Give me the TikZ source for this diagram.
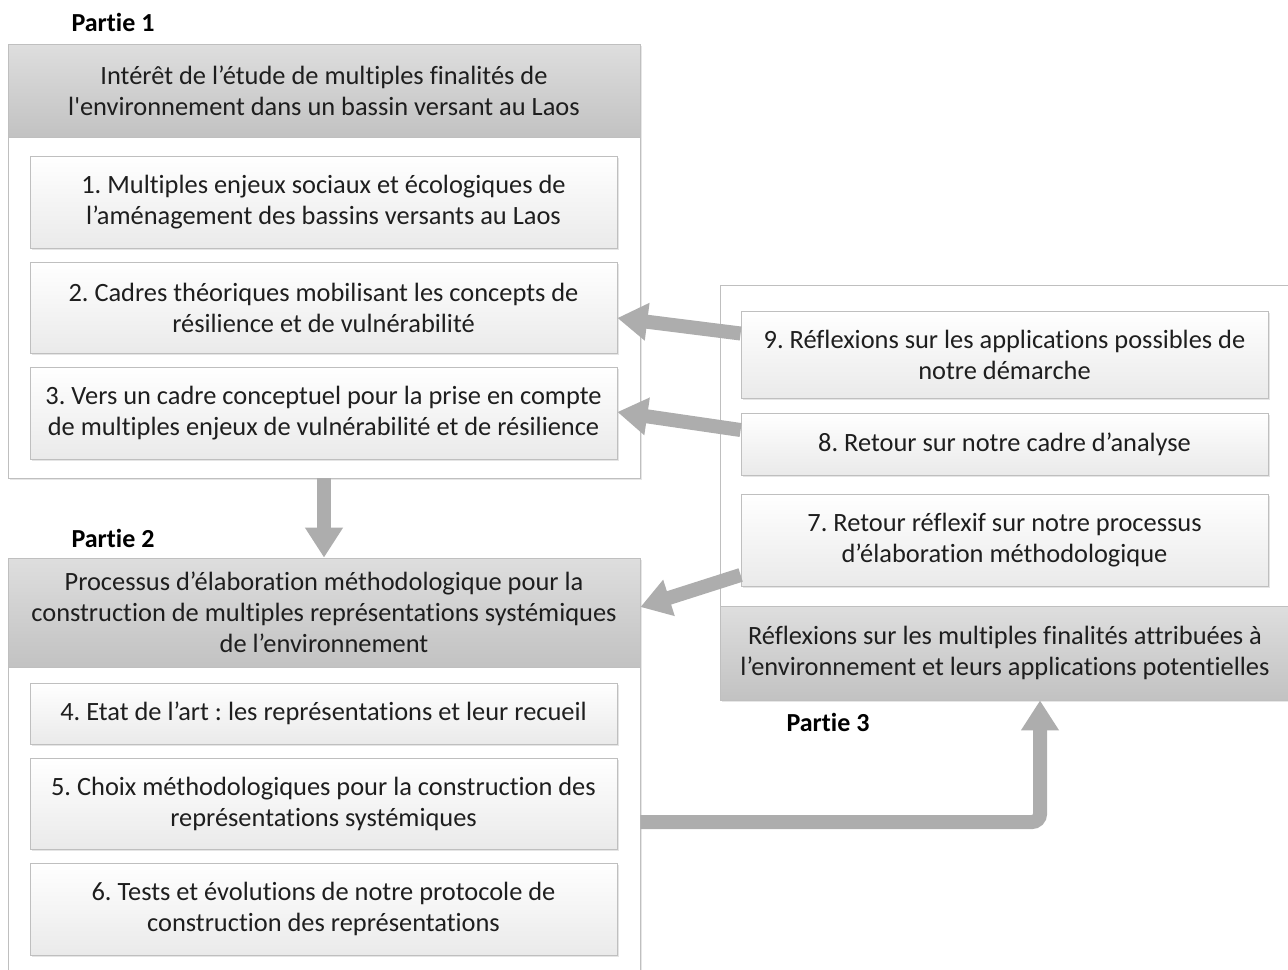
\documentclass[tikz,border=0pt]{standalone}
\usepackage{fontspec}
\newfontfamily\carlito{Carlito}[Ligatures=NoCommon]
\usetikzlibrary{arrows.meta, shadows}
\definecolor{framegray}{HTML}{BFBFBF}
\definecolor{headtop}{HTML}{DEDEDE}
\definecolor{headbot}{HTML}{C2C2C2}
\definecolor{itembot}{HTML}{EAEAEA}
\definecolor{arrowgray}{HTML}{ADADAD}
\definecolor{inkgray}{HTML}{1E1E1E}
\tikzset{
    partframe/.style={draw=framegray, fill=white, inner sep=0pt,
        drop shadow={shadow xshift=0.8pt, shadow yshift=-0.8pt, opacity=0.2}},
    headbox/.style={draw=framegray, top color=headtop, bottom color=headbot, inner sep=0pt,
        align=center, text=inkgray, font=\carlito\fontsize{13.2}{15.5}\selectfont},
    itembox/.style={draw=framegray, top color=white, bottom color=itembot, inner sep=0pt,
        align=center, text=inkgray, font=\carlito\fontsize{13.2}{15.5}\selectfont,
        drop shadow={shadow xshift=0.8pt, shadow yshift=-0.8pt, opacity=0.2}},
    partlabel/.style={font=\carlito\fontsize{13}{15}\selectfont\bfseries, text=black},
    flow/.style={draw=arrowgray, line width=7pt, -{Triangle[width=18pt, length=15pt]}},
}

\begin{document}
\frenchspacing
\begin{tikzpicture}[x=0.5pt, y=-0.5pt]
    \path[use as bounding box] (0,0) rectangle (1288,969);
    \clip (0,0) rectangle (1288,969);

    % Partie 1
    \node[partlabel] (lab1) at (113,22) {Partie 1};
    \node[partframe, minimum width=316pt, minimum height=217pt] (p1) at (324,261) {};
    \node[headbox, minimum width=316pt, minimum height=46.5pt] (h1) at (324,90.5)
        {Intérêt de l’étude de multiples finalités de\\l'environnement dans un bassin versant au Laos};
    \node[itembox, minimum width=293.5pt, minimum height=46pt] (b1) at (323.5,202)
        {1. Multiples enjeux sociaux et écologiques de\\l’aménagement des bassins versants au Laos};
    \node[itembox, minimum width=293.5pt, minimum height=45.5pt] (b2) at (323.5,307.5)
        {2. Cadres théoriques mobilisant les concepts de\\résilience et de vulnérabilité};
    \node[itembox, minimum width=293.5pt, minimum height=46pt] (b3) at (323.5,413)
        {3. Vers un cadre conceptuel pour la prise en compte\\de multiples enjeux de vulnérabilité et de résilience};

    % Partie 2
    \node[partlabel] (lab2) at (113,538) {Partie 2};
    \node[partframe, minimum width=316pt, minimum height=221pt] (p2) at (324,779) {};
    \node[headbox, minimum width=316pt, minimum height=54.5pt] (h2) at (324,612.5)
        {Processus d’élaboration méthodologique pour la\\construction de multiples représentations systémiques\\de l’environnement};
    \node[itembox, minimum width=293.5pt, minimum height=30.5pt] (b4) at (323.5,713.5)
        {4. Etat de l’art : les représentations et leur recueil};
    \node[itembox, minimum width=293.5pt, minimum height=45.5pt] (b5) at (323.5,803.5)
        {5. Choix méthodologiques pour la construction des\\représentations systémiques};
    \node[itembox, minimum width=293.5pt, minimum height=46pt] (b6) at (323.5,909)
        {6. Tests et évolutions de notre protocole de\\construction des représentations};

    % Partie 3
    \node[partframe, minimum width=285pt, minimum height=207.5pt] (p3) at (1005,492.5) {};
    \node[headbox, minimum width=285pt, minimum height=47pt] (h3) at (1005,653)
        {Réflexions sur les multiples finalités attribuées à\\l’environnement et leurs applications potentielles};
    \node[itembox, minimum width=263.5pt, minimum height=43.5pt] (b9) at (1004.5,354.5)
        {9. Réflexions sur les applications possibles de\\notre démarche};
    \node[itembox, minimum width=263.5pt, minimum height=31pt] (b8) at (1004.5,444)
        {8. Retour sur notre cadre d’analyse};
    \node[itembox, minimum width=263.5pt, minimum height=46pt] (b7) at (1004.5,540)
        {7. Retour réflexif sur notre processus\\d’élaboration méthodologique};
    \node[partlabel] (lab3) at (828,722) {Partie 3};

    % liens
    \draw[flow] (p1.south) -- (h2.north);
    \draw[flow] ([yshift=10.5pt]b9.west) -- ([yshift=-5.25pt]b2.east);
    \draw[flow] ([yshift=7pt]b8.west) -- ([yshift=0.5pt]b3.east);
    \draw[flow] ([yshift=-17.5pt]b7.west) -- ([yshift=2.75pt]h2.east);
    \draw[flow, rounded corners=4pt] ([yshift=-9.25pt]b5.east -| p2.east) -| ([xshift=17.5pt]h3.south);
\end{tikzpicture}
\end{document}
